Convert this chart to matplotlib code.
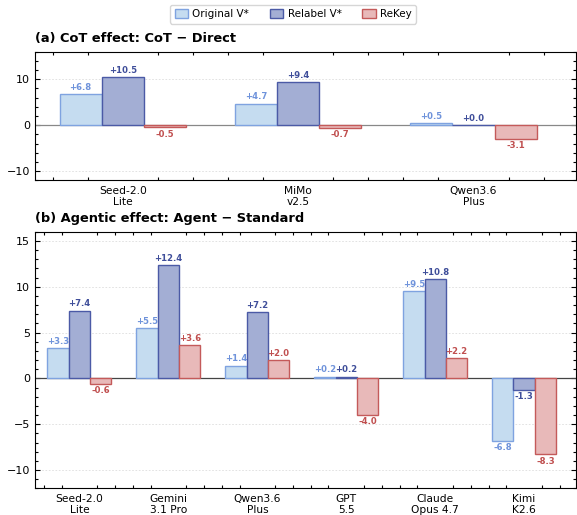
import matplotlib
matplotlib.use("Agg")
import matplotlib.pyplot as plt
from matplotlib.ticker import AutoMinorLocator, MultipleLocator
from matplotlib.patches import Patch
import numpy as np

plt.rcParams['font.family'] = ['DejaVu Sans']

series = ["Original V*", "Relabel V*", "ReKey"]

cot_models = ["Seed-2.0\nLite", "MiMo\nv2.5", "Qwen3.6\nPlus"]
cot_orig = [6.8, 4.7, 0.5]
cot_relabel = [10.5, 9.4, 0.0]
cot_rekey = [-0.5, -0.7, -3.1]

agent_models = ["Seed-2.0\nLite", "Gemini\n3.1 Pro", "Qwen3.6\nPlus", "GPT\n5.5",
                "Claude\nOpus 4.7", "Kimi\nK2.6"]
agent_orig = [3.3, 5.5, 1.4, 0.2, 9.5, -6.8]
agent_relabel = [7.4, 12.4, 7.2, 0.2, 10.8, -1.3]
agent_rekey = [-0.6, 3.6, 2.0, -4.0, 2.2, -8.3]

fills = ["#c5dcf0", "#a3aed4", "#e8b9b9"]
edges = ["#7fa3e0", "#4b5aa6", "#c45a5a"]
txtc = ["#6f93db", "#3f4e9a", "#c04f4f"]

fig = plt.figure(figsize=(5.77, 5.15), dpi=100)
axa = fig.add_axes([0.0607, 0.650, 0.9378, 0.2496])
axb = fig.add_axes([0.0607, 0.0518, 0.9378, 0.4982])

W = 0.24


def draw(ax, models, vals, title, zcolor):
    x = np.arange(len(models))
    ax.axhline(0, color=zcolor, lw=0.9, zorder=1)
    for i, v in enumerate(vals):
        pos = x + (i - 1) * W
        ax.bar(pos, v, W, color=fills[i], edgecolor=edges[i], linewidth=1.0, zorder=2)
        for p, val in zip(pos, v):
            if val >= 0:
                ax.annotate(f"+{val:.1f}", (p, val), xytext=(0, 1.5), textcoords="offset points",
                            ha="center", va="bottom", fontsize=6.1, fontweight="bold", color=txtc[i])
            else:
                ax.annotate(f"-{abs(val):.1f}", (p, val), xytext=(0, -1.5), textcoords="offset points",
                            ha="center", va="top", fontsize=6.1, fontweight="bold", color=txtc[i])
    ax.set_xticks(x)
    ax.set_xticklabels(models, fontsize=7.7)
    ax.set_xlim(-0.5, len(models) - 1 + 0.585)
    ax.set_ylim(-12, 16)
    ax.xaxis.set_minor_locator(AutoMinorLocator(5))
    ax.yaxis.set_minor_locator(AutoMinorLocator())
    ax.tick_params(axis="x", which="major", length=0, pad=4)
    ax.tick_params(axis="both", which="both", direction="in", top=True, right=True, width=0.8)
    ax.tick_params(axis="y", which="major", length=3.5, labelsize=8)
    ax.tick_params(axis="both", which="minor", length=2)
    ax.grid(axis="y", which="major", linestyle=(0, (2, 2)), color="#dddddd", lw=0.6, zorder=0)
    ax.set_axisbelow(True)
    ax.set_title(title, loc="left", fontsize=9.35, fontweight="bold", pad=7)


draw(axa, cot_models, [cot_orig, cot_relabel, cot_rekey], "(a) CoT effect: CoT \u2212 Direct", "#888888")
axa.yaxis.set_major_locator(MultipleLocator(10))
draw(axb, agent_models, [agent_orig, agent_relabel, agent_rekey], "(b) Agentic effect: Agent \u2212 Standard", "#444444")
axb.yaxis.set_major_locator(MultipleLocator(5))

handles = [Patch(facecolor=fills[i], edgecolor=edges[i], label=series[i]) for i in range(3)]
fig.legend(handles=handles, loc="upper center", bbox_to_anchor=(0.508, 1.0), ncol=3, fontsize=7.5,
           frameon=True, fancybox=True, handlelength=1.3, handleheight=0.9, columnspacing=2.0,
           handletextpad=0.4, borderpad=0.4)

fig.savefig("out.png", dpi=100)
